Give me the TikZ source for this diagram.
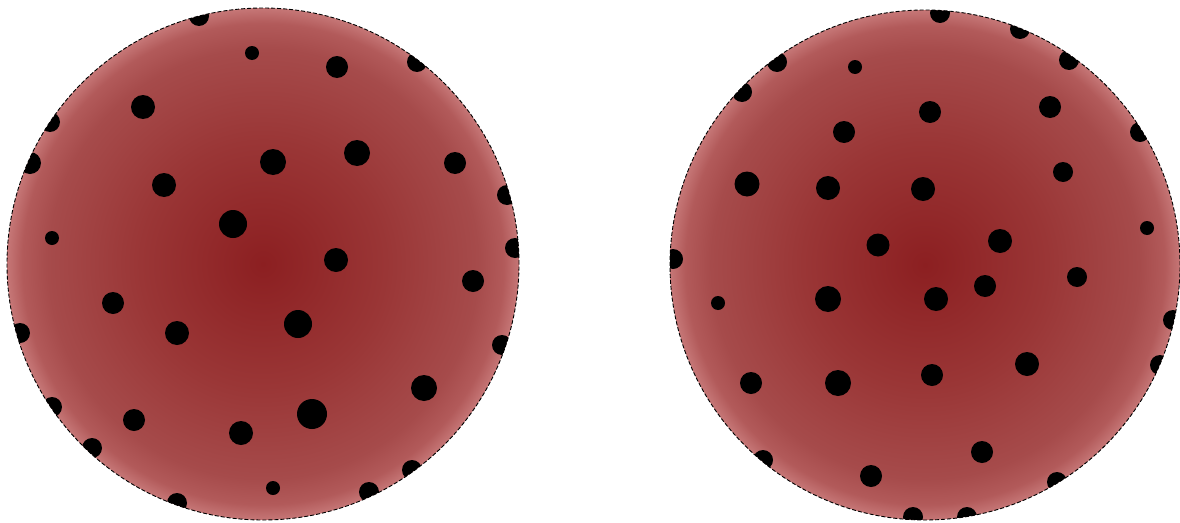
\documentclass[tikz,border=0pt]{standalone}
\definecolor{rc0}{HTML}{8C1F21}
\definecolor{rc1}{HTML}{9A3636}
\definecolor{rc2}{HTML}{A64B4B}
\definecolor{rc3}{HTML}{B25A5A}
\definecolor{rc4}{HTML}{C67777}
\pgfdeclareradialshading{redball}{\pgfpoint{0bp}{0bp}}{color(0bp)=(rc0); color(12bp)=(rc1); color(21bp)=(rc2); color(23.5bp)=(rc3); color(25bp)=(rc4); color(50bp)=(rc4)}
\tikzset{
  disc/.style={shading=redball},
  rim/.style={draw=black, line width=0.9pt, dash pattern=on 4pt off 2pt},
  dot/.style={fill=black}
}
\begin{document}
\begin{tikzpicture}[x=1pt,y=-1pt]
\useasboundingbox (0,0) rectangle (1180,522);
% left disc
\begin{scope}
  \clip (263,264) circle (256pt);
  \shade[disc] (263,264) circle (256pt);
  \foreach \px/\py/\pr in {199/16/10, 252/53/7, 143/107/12, 50/122/10, 30/163/11, 273/162/13,
    164/185/12, 233/224/14, 52/238/7, 337/67/11, 417/62/10, 357/153/13, 455/163/11,
    507/195/10, 515/248/10, 336/260/12, 113/303/11, 177/333/12, 20/333/10, 298/324/14,
    52/407/10, 134/420/11, 241/433/12, 92/448/10, 273/488/7, 177/503/10, 473/281/11,
    502/345/10, 424/388/13, 312/414/15, 412/470/10, 369/492/10}
    \fill[dot] (\px,\py) circle (\pr pt);
\end{scope}
\draw[rim] (263,264) circle (256pt);
% right disc
\begin{scope}
  \clip (925,265) circle (255pt);
  \shade[disc] (925,265) circle (255pt);
  \foreach \px/\py/\pr in {940/13/10, 1020/29/10, 1069/60/10, 777/62/10, 855/67/7, 742/92/10,
    1050/107/11, 930/112/11, 844/132/11, 1140/132/10, 1063/172/10, 747/184/12.5,
    828/188/12, 923/189/12, 1147/228/7, 878/245/11.5, 1000/241/12, 673/259/10,
    1077/277/10, 985/286/11, 828/299/13, 936/299/12, 718/303/7, 1173/320/10,
    1027/364/12, 1160/365/10, 932/375/11, 751/383/11, 838/383/13, 982/452/11,
    871/476/11, 1057/482/10, 763/460/10, 913/517/10, 967/517/10}
    \fill[dot] (\px,\py) circle (\pr pt);
\end{scope}
\draw[rim] (925,265) circle (255pt);
\end{tikzpicture}
\end{document}
